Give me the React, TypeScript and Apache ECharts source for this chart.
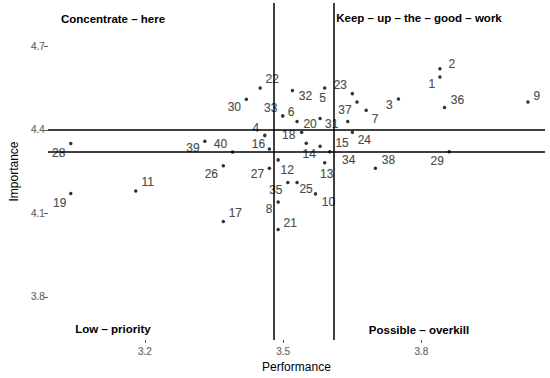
import React, { useEffect, useRef } from "react";
import * as echarts from "echarts";

const ids = ["1","2","3","4","5","6","7","8","9","10","11","12","13","14","15","16","17","18","19","20","21","22","23","24","25","26","27","28","29","30","31","32","33","34","35","36","37","38","39","40"];
const performance = [3.840,3.840,3.750,3.460,3.590,3.530,3.680,3.489,4.031,3.570,3.180,3.489,3.590,3.550,3.580,3.470,3.370,3.540,3.039,3.580,3.489,3.450,3.650,3.650,3.530,3.370,3.470,3.039,3.860,3.420,3.640,3.520,3.499,3.601,3.510,3.850,3.660,3.700,3.330,3.390];
const importance = [4.590,4.619,4.511,4.380,4.550,4.430,4.470,4.141,4.500,4.170,4.180,4.292,4.282,4.352,4.341,4.331,4.071,4.391,4.171,4.441,4.042,4.550,4.530,4.391,4.211,4.271,4.262,4.351,4.321,4.510,4.430,4.541,4.450,4.321,4.211,4.480,4.500,4.262,4.359,4.320];
const performanceRefLines = [3.482, 3.606];
const importanceRefLines = [4.397, 4.322];
const xTicks = [3.2, 3.5, 3.8];
const yTicks = [3.8, 4.1, 4.4, 4.7];
const quadrantTitles = ["Concentrate – here", "Keep – up – the – good – work", "Low – priority", "Possible – overkill"];

// label placement (layout only): offset of each label from its point, in px
const labelOffsets: number[][] = [
  [-8,7],[12,-5],[-9,6],[-9,-7],[-2,10],[-6,-9],[9,9],[-9,7],[9,-6],[13,8],
  [12,-9],[9,10],[2,11],[3,11],[22,-3],[-11,-5],[12,-8],[-13,3],[-11,9],[-10,6],
  [12,-7],[12,-9],[-12,-9],[12,8],[9,7],[-12,8],[-12,6],[-12,10],[-12,9],[-12,8],
  [-16,3],[13,5],[-12,-8],[19,8],[-12,8],[13,-8],[-12,8],[13,-8],[-12,7],[-12,-8]
];

export default function App() {
  const ref = useRef<HTMLDivElement>(null);
  useEffect(() => {
    if (!ref.current) return;
    const chart = echarts.init(ref.current, undefined, { renderer: "svg" });
    const font = "'Liberation Sans', Arial, sans-serif";
    const data = ids.map((id, i) => ({
      name: id,
      value: [performance[i], importance[i]],
      label: { offset: labelOffsets[i] },
    }));
    const lineData: any[] = [
      ...performanceRefLines.map((v) => ({ xAxis: v })),
      ...importanceRefLines.map((v) => ({ yAxis: v })),
    ];
    const titlePos = [[113, 19], [419, 18], [113, 329], [419, 330]];
    chart.setOption({
      animation: false,
      backgroundColor: "#ffffff",
      grid: { left: 38, right: 5, top: 3, bottom: 33, containLabel: false },
      xAxis: {
        type: "value",
        min: 2.9894,
        max: 4.068,
        name: "Performance",
        nameLocation: "middle",
        nameGap: 21,
        nameTextStyle: { color: "#000", fontSize: 12, fontFamily: font },
        axisLine: { show: false },
        splitLine: { show: false },
        axisTick: { show: true, length: 3, customValues: xTicks, lineStyle: { color: "#555" } },
        axisLabel: { customValues: xTicks, color: "#6b6b6b", fontSize: 10, fontFamily: font, margin: 6, textBorderColor: "#6b6b6b", textBorderWidth: 0.2, formatter: (v: number) => v.toFixed(1) },
      },
      yAxis: {
        type: "value",
        min: 3.6452,
        max: 4.8554,
        name: "Importance",
        nameLocation: "middle",
        nameGap: 24,
        nameRotate: 90,
        nameTextStyle: { color: "#000", fontSize: 12, fontFamily: font },
        axisLine: { show: false },
        splitLine: { show: false },
        axisTick: { show: true, length: 4, customValues: yTicks, lineStyle: { color: "#555" } },
        axisLabel: { customValues: yTicks, color: "#6b6b6b", fontSize: 10, fontFamily: font, margin: 3, textBorderColor: "#6b6b6b", textBorderWidth: 0.2, formatter: (v: number) => v.toFixed(1) },
      },
      series: [
        {
          type: "scatter",
          data,
          symbol: "circle",
          symbolSize: 3.5,
          itemStyle: { color: "#000" },
          label: {
            show: true,
            position: "inside",
            formatter: "{b}",
            color: "#262626",
            textBorderColor: "#262626",
            textBorderWidth: 0.2,
            fontSize: 12,
            fontFamily: font,
            align: "center",
            verticalAlign: "middle",
          },
          markLine: {
            silent: true,
            symbol: "none",
            label: { show: false },
            lineStyle: { color: "#000", width: 1.5, type: "solid" },
            data: lineData,
          },
          z: 3,
        },
      ],
      graphic: quadrantTitles.map((t, i) => ({
        type: "text",
        x: titlePos[i][0],
        y: titlePos[i][1],
        style: {
          text: t,
          fill: "#000",
          font: `bold 11.5px ${font}`,
          textAlign: "center",
          textVerticalAlign: "middle",
        },
      })),
    });
    return () => chart.dispose();
  }, []);
  return (
    <div
      ref={ref}
      style={{ width: 550, height: 378, position: "absolute", left: 0, top: 0 }}
    />
  );
}
